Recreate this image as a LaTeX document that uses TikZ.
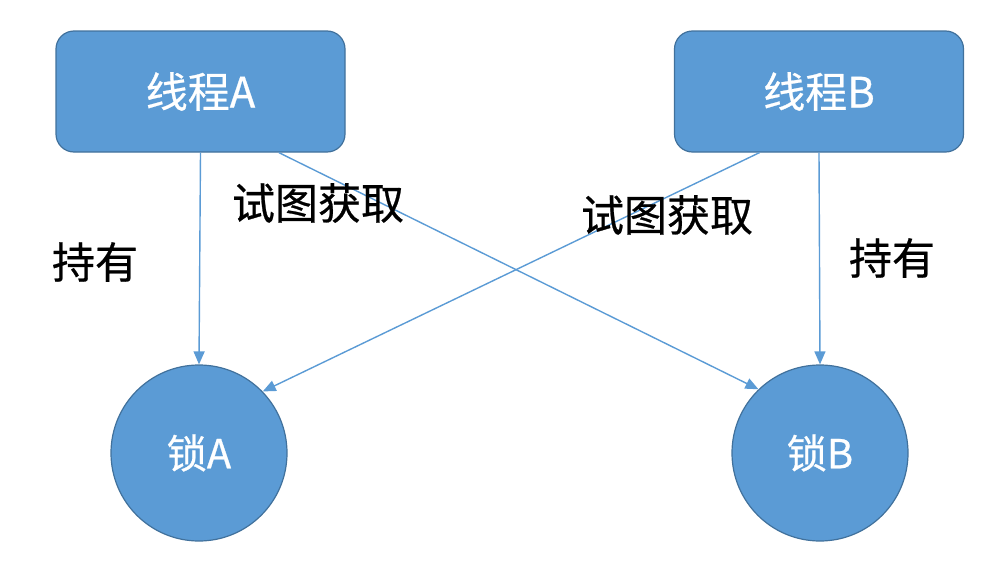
\documentclass[tikz,border=0pt]{standalone}
\usepackage{fontspec}
\setmainfont{Noto Sans CJK SC}[FakeBold=0.6]
\usepackage{tikz}
\usetikzlibrary{arrows.meta, calc}
\definecolor{boxblue}{RGB}{91, 155, 213}
\definecolor{edgeblue}{RGB}{65, 113, 156}

\tikzset{
  thread/.style={draw=edgeblue, fill=boxblue, line width=1.2pt, rounded corners=18pt,
    minimum width=289pt, minimum height=121pt, text=white, font=\fontsize{42}{48}\selectfont},
  lock/.style={circle, draw=edgeblue, fill=boxblue, line width=1.2pt,
    minimum size=176pt, inner sep=0pt, text=white, font=\fontsize{40}{46}\selectfont},
  link/.style={boxblue, line width=1.4pt, -{Triangle[length=13pt,width=11pt]}},
  note/.style={font=\fontsize{43}{50}\selectfont}
}

\begin{document}
\begin{tikzpicture}[x=1pt, y=-1pt]
  \useasboundingbox (0,0) rectangle (1002,570);

  % threads
  \node[thread] (ta) at (200.5,91.5) {线程A};
  \node[thread] (tb) at (819,91.5) {线程B};

  % locks
  \node[lock] (la) at (199,453) {锁A};
  \node[lock] (lb) at (820,453) {锁B};

  % holding
  \draw[link] (ta.south) -- (la.north);
  \draw[link] (tb.south) -- (lb.north);

  % trying to get
  \draw[link] ($(ta.south)!0.54!(ta.south east)$) -- (lb.134);
  \draw[link] ($(tb.south)!0.41!(tb.south west)$) -- (la.44);

  % labels
  \node[note] (ha) at (95,262) {持有};
  \node[note] (hb) at (892,258) {持有};
  \node[note] (ga) at (318,203) {试图获取};
  \node[note] (gb) at (667,215) {试图获取};
\end{tikzpicture}
\end{document}
